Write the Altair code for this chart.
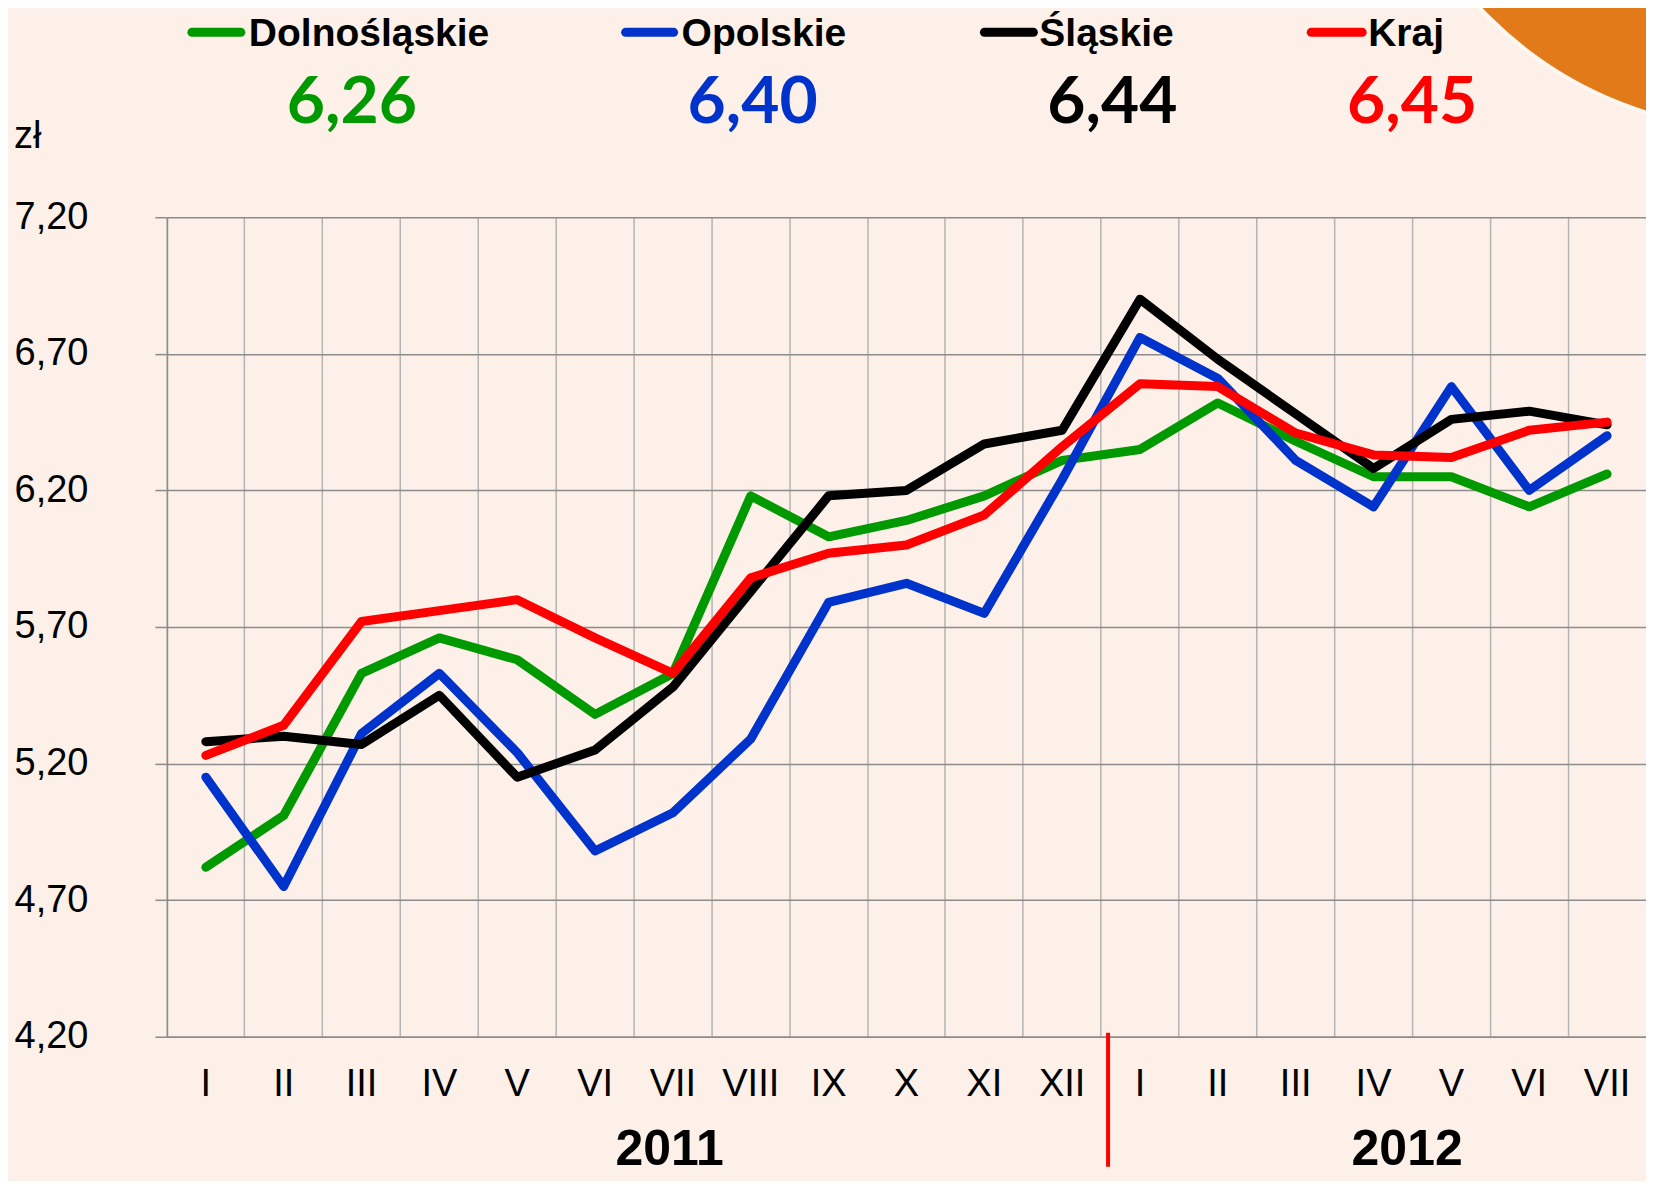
import math
import altair as alt
import pandas as pd

# ---------------- data ----------------
MONTHS_2011 = ["I", "II", "III", "IV", "V", "VI", "VII", "VIII", "IX", "X", "XI", "XII"]
MONTHS_2012 = ["I", "II", "III", "IV", "V", "VI", "VII"]
CATEGORIES = [f"2011-{m}" for m in MONTHS_2011] + [f"2012-{m}" for m in MONTHS_2012]
YEARS = ["2011", "2012"]

SERIES = ["Dolnośląskie", "Opolskie", "Śląskie", "Kraj"]
COLORS = ["#009900", "#0033CC", "#000000", "#FF0000"]

DOLNOSLASKIE = [4.82, 5.01, 5.53, 5.66, 5.58, 5.38, 5.53, 6.18, 6.03, 6.09, 6.18, 6.31,
                6.35, 6.52, 6.38, 6.25, 6.25, 6.14, 6.26]
OPOLSKIE = [5.15, 4.75, 5.31, 5.53, 5.24, 4.88, 5.02, 5.29, 5.79, 5.86, 5.75, 6.24,
            6.76, 6.61, 6.31, 6.14, 6.58, 6.20, 6.40]
SLASKIE = [5.28, 5.30, 5.27, 5.45, 5.15, 5.25, 5.48, 5.83, 6.18, 6.20, 6.37, 6.42,
           6.90, 6.68, 6.48, 6.28, 6.46, 6.49, 6.44]
KRAJ = [5.23, 5.34, 5.72, 5.76, 5.80, 5.66, 5.53, 5.88, 5.97, 6.00, 6.11, 6.36,
        6.59, 6.58, 6.41, 6.33, 6.32, 6.42, 6.45]
VALUES = [DOLNOSLASKIE, OPOLSKIE, SLASKIE, KRAJ]

Y_TICKS = [4.20, 4.70, 5.20, 5.70, 6.20, 6.70, 7.20]

# ---------------- layout ----------------
W, H = 1480, 820
BG = "#FCF0E8"
LEG_LINE = [(25, 74), (459, 507), (818, 867), (1145, 1196)]
LEG_TEXT_X = [82, 515, 873, 1202]
NUM_X = [185, 586, 946, 1246]
YEAR_X = [503, 1241]

band_scale = alt.Scale(type="band", domain=CATEGORIES, paddingInner=0, paddingOuter=0)

x_enc = alt.X(
    "cat:N", sort=CATEGORIES, title="", bandPosition=0.5,
    scale=band_scale,
    axis=alt.Axis(
        bandPosition=0, labelAngle=0,
        labelExpr="split(datum.value, '-')[1]",
        labelFont="Liberation Sans", labelFontSize=38, labelColor="black",
        labelPadding=29, ticks=False, tickSize=0,
        domainColor="#8c8c8c", domainWidth=1.5,
        grid=True, gridColor="#b4b4b4", gridWidth=1.5, title="",
    ),
)
y_enc = alt.Y(
    "value:Q", title="",
    scale=alt.Scale(domain=[4.2, 7.2], nice=False, zero=False),
    axis=alt.Axis(
        values=Y_TICKS,
        labelExpr="replace(format(datum.value, '.2f'), '.', ',')",
        labelFont="Liberation Sans", labelFontSize=38, labelColor="black",
        labelPadding=67, tickSize=12, tickColor="#8c8c8c", tickWidth=1.5,
        domainColor="#8c8c8c", domainWidth=1.5,
        grid=True, gridColor="#8c8c8c", gridWidth=1.5, title="",
    ),
)

layers = []

# decorative orange circle top-right
layers.append(
    alt.Chart(pd.DataFrame({"d": [0]}))
    .mark_arc(color="#E27A1A", theta=0, theta2=2 * math.pi, radius=387,
              stroke="#FFF7F0", strokeWidth=4)
    .encode(x=alt.value(1596), y=alt.value(-474))
)

# series lines
for name, color, vals in zip(SERIES, COLORS, VALUES):
    df = pd.DataFrame({"cat": CATEGORIES, "value": vals, "series": name})
    layers.append(
        alt.Chart(df)
        .mark_line(color=color, strokeWidth=9, strokeCap="round", strokeJoin="round")
        .encode(x=x_enc, y=y_enc)
    )

# red separator between years
layers.append(
    alt.Chart(pd.DataFrame({"cat": ["2012-I"]}))
    .mark_rule(color="#FF0000", strokeWidth=4, xOffset=7)
    .encode(
        x=alt.X("cat:N", sort=CATEGORIES, title="", bandPosition=0, scale=band_scale),
        y=alt.value(816), y2=alt.value(950),
    )
)

# custom legend with latest values
for i, (name, color, vals) in enumerate(zip(SERIES, COLORS, VALUES)):
    x0, x1 = LEG_LINE[i]
    layers.append(
        alt.Chart(pd.DataFrame({"d": [0]}))
        .mark_rule(color=color, strokeWidth=9, strokeCap="round")
        .encode(x=alt.value(x0), x2=alt.value(x1), y=alt.value(-185))
    )
    layers.append(
        alt.Chart(pd.DataFrame({"t": [name]}))
        .mark_text(align="left", baseline="alphabetic", font="Liberation Sans",
                   fontWeight="bold", fontSize=39, color="black")
        .encode(x=alt.value(LEG_TEXT_X[i]), y=alt.value(-171), text="t:N")
    )
    latest = f"{vals[-1]:.2f}".replace(".", ",")
    layers.append(
        alt.Chart(pd.DataFrame({"t": [latest]}))
        .mark_text(align="center", baseline="alphabetic", font="Lato",
                   fontWeight="bold", fontSize=66, color=color)
        .encode(x=alt.value(NUM_X[i]), y=alt.value(-94), text="t:N")
    )

# unit label
layers.append(
    alt.Chart(pd.DataFrame({"t": ["zł"]}))
    .mark_text(align="left", baseline="alphabetic", font="Liberation Sans",
               fontSize=38, color="black")
    .encode(x=alt.value(-153), y=alt.value(-69), text="t:N")
)

# year labels
for yx, yr in zip(YEAR_X, YEARS):
    layers.append(
        alt.Chart(pd.DataFrame({"t": [yr]}))
        .mark_text(align="center", baseline="alphabetic", font="Liberation Sans",
                   fontWeight="bold", fontSize=50, color="black")
        .encode(x=alt.value(yx), y=alt.value(948), text="t:N")
    )

chart = (
    alt.layer(*layers)
    .properties(
        width=W, height=H, background=BG,
        autosize=alt.AutoSizeParams(type="none"),
        padding={"left": 159, "top": 209, "right": 0, "bottom": 144},
    )
    .configure_view(stroke="transparent")
)

chart.save("out.html", embed_options={"renderer": "svg", "actions": False})
